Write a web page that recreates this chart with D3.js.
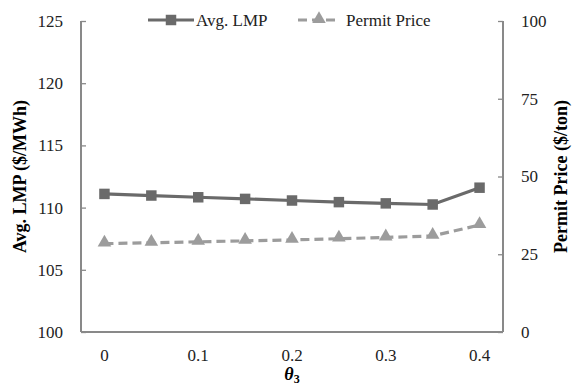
<!DOCTYPE html>
<html>
<head>
<meta charset="utf-8">
<script src="https://cdn.jsdelivr.net/npm/d3@7"></script>
<style>
	body { margin: 0; background: #fff; }
</style>
</head>
<body>
<svg id="chart" width="574" height="387" font-family="'Liberation Serif', 'Times New Roman', serif"></svg>
<script>
'use strict';

// Adatok
var thetaValues = [0, 0.05, 0.1, 0.15, 0.2, 0.25, 0.3, 0.35, 0.4];
var lmpValues = [111.1, 110.97, 110.83, 110.7, 110.57, 110.44, 110.34, 110.25, 111.6];
var permitValues = [28.4, 28.7, 29.0, 29.3, 29.6, 30.0, 30.4, 30.9, 34.4];
var xTickLabels = [0, 0.1, 0.2, 0.3, 0.4];
var leftTicks = [100, 105, 110, 115, 120, 125];
var rightTicks = [0, 25, 50, 75, 100];

var margin = {top: 21, right: 71, bottom: 55, left: 81};
var w = 574, h = 387;
var width = w - margin.left - margin.right;
var height = h - margin.top - margin.bottom;

var lmpColor = "#6a6a6a";
var permitColor = "#9c9c9c";
var axisColor = "#898989";

var svg = d3.select("#chart");
var g = svg.append("g").attr("transform", "translate(" + margin.left + "," + margin.top + ")");

var x = d3.scalePoint().domain(thetaValues).range([0, width]).padding(0.5);
var yLeft = d3.scaleLinear().domain([100, 125]).range([height, 0]);
var yRight = d3.scaleLinear().domain([0, 100]).range([height, 0]);

// Tengelyek (befelé mutató osztásokkal)
var leftAxis = g.append("g")
		.call(d3.axisRight(yLeft).tickValues(leftTicks).tickSize(5).tickFormat(""));
var rightAxis = g.append("g")
		.attr("transform", "translate(" + width + ",0)")
		.call(d3.axisLeft(yRight).tickValues(rightTicks).tickSize(5).tickFormat(""));
[leftAxis, rightAxis].forEach(function(a) {
	a.select(".domain").remove();
	a.selectAll("line").attr("stroke", axisColor).attr("stroke-width", 1.3);
});

g.append("line")
		.attr("x1", 0).attr("x2", 0).attr("y1", 0).attr("y2", height)
		.attr("stroke", axisColor).attr("stroke-width", 2);
g.append("line")
		.attr("x1", width).attr("x2", width).attr("y1", 0).attr("y2", height)
		.attr("stroke", axisColor).attr("stroke-width", 2);
g.append("line")
		.attr("x1", 0).attr("x2", width).attr("y1", height).attr("y2", height)
		.attr("stroke", axisColor).attr("stroke-width", 2);

// Feliratok
g.selectAll(".lt").data(leftTicks).enter().append("text")
		.attr("x", -18).attr("y", function(d) { return yLeft(d); })
		.attr("dy", "0.35em").attr("text-anchor", "end")
		.attr("font-size", 17).attr("fill", "#222")
		.text(function(d) { return d; });
g.selectAll(".rt").data(rightTicks).enter().append("text")
		.attr("x", width + 18).attr("y", function(d) { return yRight(d); })
		.attr("dy", "0.35em").attr("text-anchor", "start")
		.attr("font-size", 17).attr("fill", "#222")
		.text(function(d) { return d; });
g.selectAll(".xt").data(xTickLabels).enter().append("text")
		.attr("x", function(d) { return x(d); }).attr("y", height + 29)
		.attr("text-anchor", "middle")
		.attr("font-size", 17).attr("fill", "#222")
		.text(function(d) { return d; });

// Tengelycímek
svg.append("text")
		.attr("transform", "translate(26," + (margin.top + height / 2) + ") rotate(-90)")
		.attr("text-anchor", "middle").attr("font-size", 18).attr("font-weight", "bold")
		.text("Avg. LMP ($/MWh)");
svg.append("text")
		.attr("transform", "translate(567," + (margin.top + height / 2) + ") rotate(-90)")
		.attr("text-anchor", "middle").attr("font-size", 18).attr("font-weight", "bold")
		.text("Permit Price ($/ton)");
var xt = svg.append("text")
		.attr("x", margin.left + width / 2).attr("y", 380)
		.attr("text-anchor", "middle").attr("font-size", 18).attr("font-weight", "bold");
xt.append("tspan").attr("font-style", "italic").text("θ");
xt.append("tspan").attr("font-size", 12).attr("dy", 3).text("3");

// Vonalak
var lmpLine = d3.line()
		.x(function(d, i) { return x(thetaValues[i]); })
		.y(function(d) { return yLeft(d); });
var permitLine = d3.line()
		.x(function(d, i) { return x(thetaValues[i]); })
		.y(function(d) { return yRight(d); });

g.append("path").datum(permitValues)
		.attr("d", permitLine).attr("fill", "none")
		.attr("stroke", permitColor).attr("stroke-width", 3.2)
		.attr("stroke-dasharray", "9,5");
g.append("path").datum(lmpValues)
		.attr("d", lmpLine).attr("fill", "none")
		.attr("stroke", lmpColor).attr("stroke-width", 3.2);

var square = d3.symbol().type(d3.symbolSquare).size(110);
var triangle = d3.symbol().type(d3.symbolTriangle).size(80);

g.selectAll(".sq").data(lmpValues).enter().append("path")
		.attr("d", square)
		.attr("transform", function(d, i) { return "translate(" + x(thetaValues[i]) + "," + yLeft(d) + ")"; })
		.attr("fill", lmpColor);
g.selectAll(".tri").data(permitValues).enter().append("path")
		.attr("d", triangle)
		.attr("transform", function(d, i) { return "translate(" + x(thetaValues[i]) + "," + (yRight(d) - 1) + ")"; })
		.attr("fill", permitColor);

// Jelkulcs
var legend = svg.append("g").attr("transform", "translate(0,20)");
legend.append("line").attr("x1", 148).attr("x2", 194).attr("y1", 0).attr("y2", 0)
		.attr("stroke", lmpColor).attr("stroke-width", 3.2);
legend.append("path").attr("d", square).attr("transform", "translate(171,0)").attr("fill", lmpColor);
legend.append("text").attr("x", 196).attr("y", 0).attr("dy", "0.35em")
		.attr("font-size", 17).attr("fill", "#222").text("Avg. LMP");
legend.append("line").attr("x1", 298).attr("x2", 340).attr("y1", 0).attr("y2", 0)
		.attr("stroke", permitColor).attr("stroke-width", 3.2).attr("stroke-dasharray", "9,5");
legend.append("path").attr("d", triangle).attr("transform", "translate(319,-1)").attr("fill", permitColor);
legend.append("text").attr("x", 346).attr("y", 0).attr("dy", "0.35em")
		.attr("font-size", 17).attr("fill", "#222").text("Permit Price");
</script>
</body>
</html>
